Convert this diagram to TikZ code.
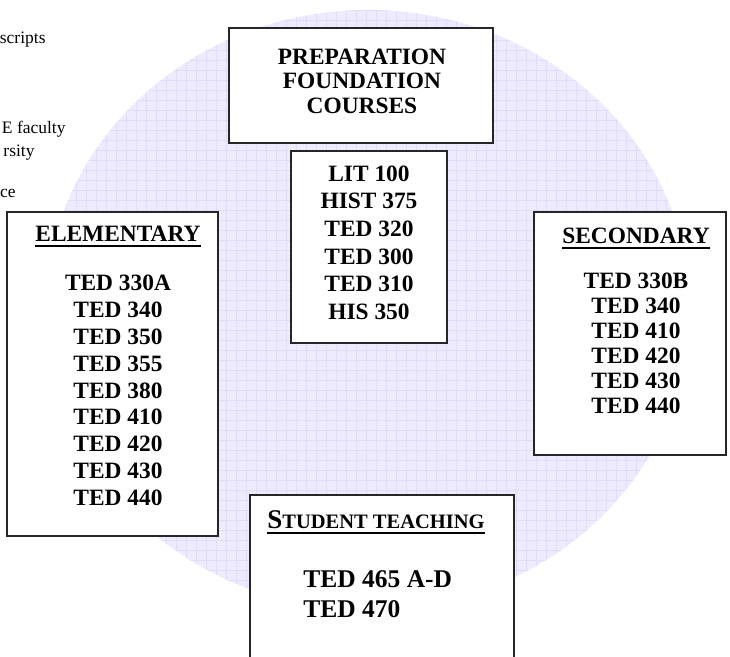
\documentclass[tikz,border=0pt]{standalone}
\usepackage{fontspec}
\setmainfont{Liberation Serif}
\usepackage{xcolor}
\usetikzlibrary{positioning}
\definecolor{ovalfill}{RGB}{237,235,253}
\definecolor{ovalgrid}{RGB}{224,220,249}
\newcommand{\headul}[1]{\vtop{\hbox{#1}\kern3.5pt\hrule height 2.4pt}}

\begin{document}
\begin{tikzpicture}[x=1pt, y=-1pt, thick]
    \tikzset{
        box/.style={rectangle, draw=black!85, line width=1.4pt, fill=white, inner sep=0pt},
        list/.style={inner sep=0pt, anchor=north, align=center, font=\bfseries\fontsize{23.4}{26.8}\selectfont},
        note/.style={inner sep=0pt, anchor=base east, font=\fontsize{17.5}{21}\selectfont},
        gridline/.style={ovalgrid, line width=0.6pt}
    }
    \useasboundingbox (0,0) rectangle (730,656);

    % lavender oval behind the boxes
    \begin{scope}
        \clip (368,310) ellipse [x radius=322, y radius=300];
        \fill[ovalfill] (40,0) rectangle (700,620);
        \foreach \gx in {46,56,...,696} \draw[gridline] (\gx,0) -- (\gx,620);
        \foreach \gy in {10,20,...,620} \draw[gridline] (40,\gy) -- (700,\gy);
    \end{scope}

    % text cut off at the left edge
    \node[note] (Frag1) at (46,43) {scripts};
    \node[note] (Frag2) at (66,133) {E faculty};
    \node[note] (Frag3) at (35,156) {rsity};
    \node[note] (Frag4) at (16,197) {ce};

    \node (Prep) [box, minimum width=264, minimum height=115] at (361,85.5) {};
    \node (PrepText) [list, font=\bfseries\fontsize{23.4}{24.5}\selectfont] at (362,48.6) {PREPARATION\\FOUNDATION\\COURSES};

    \node (Core) [box, minimum width=156, minimum height=192] at (369,247) {};
    \node (CoreText) [list, font=\bfseries\fontsize{23.4}{27.6}\selectfont] at (369,165.4) {LIT 100\\HIST 375\\TED 320\\TED 300\\TED 310\\HIS 350};

    \node (Elem) [box, minimum width=211, minimum height=324] at (112.5,374) {};
    \node (ElemText) [list] at (118,225.3) {\headul{ELEMENTARY}\\[23pt]TED 330A\\TED 340\\TED 350\\TED 355\\TED 380\\TED 410\\TED 420\\TED 430\\TED 440};

    \node (Sec) [box, minimum width=192, minimum height=243] at (630,333.5) {};
    \node (SecText) [list, font=\bfseries\fontsize{23.4}{25}\selectfont] at (636,227.3) {\headul{SECONDARY}\\[20.3pt]TED 330B\\TED 340\\TED 410\\TED 420\\TED 430\\TED 440};

    \node (Teach) [box, minimum width=264, minimum height=175] at (382,582.5) {};
    \node (TeachHead) [inner sep=0pt, anchor=base west, font=\bfseries] at (267,528)
        {\headul{{\fontsize{27}{30}\selectfont S}{\fontsize{20.5}{30}\selectfont TUDENT TEACHING}}};
    \node (TeachText) [inner sep=0pt, anchor=north west, align=left, font=\bfseries\fontsize{25.5}{30}\selectfont] at (303,570) {TED 465 A-D\\TED 470};

\end{tikzpicture}
\end{document}
